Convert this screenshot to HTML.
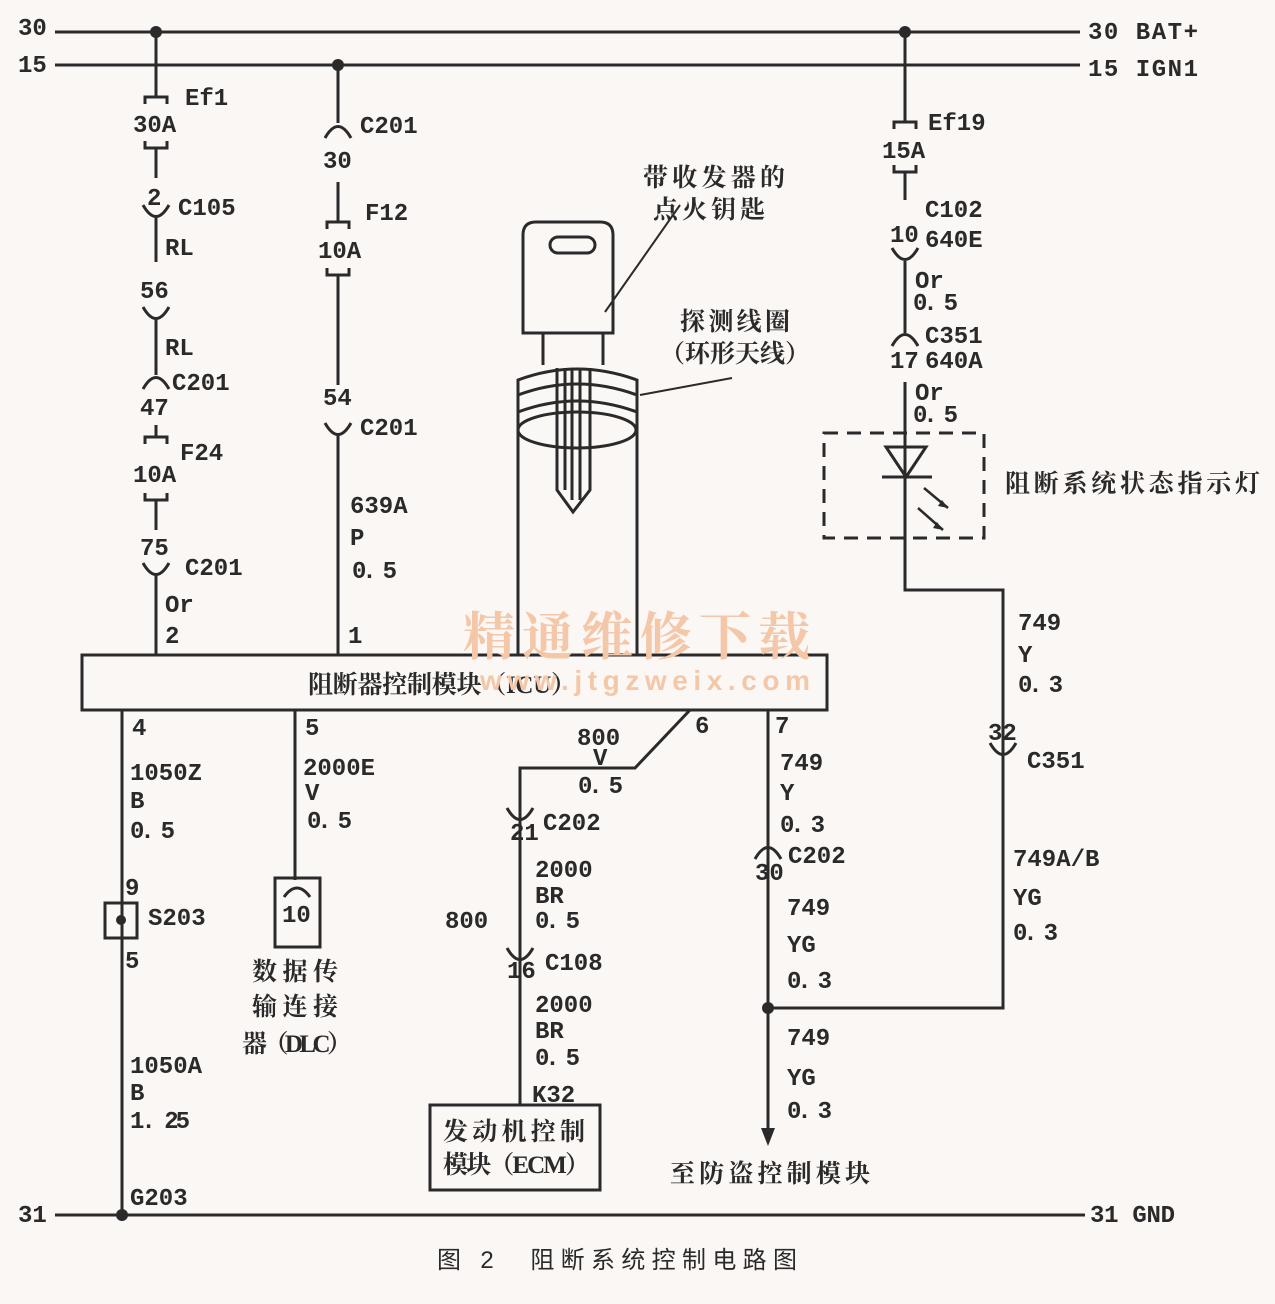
<!DOCTYPE html><html><head><meta charset="utf-8"><style>body{margin:0;background:#fbf7f5}svg{display:block}text{font-family:"Liberation Mono","Noto Serif CJK SC",monospace;font-weight:bold;font-size:24px;fill:#2a2a2a}.c{font-family:"Liberation Serif","Noto Serif CJK SC",serif;font-size:25px;font-weight:bold}</style></head><body>
<svg width="1275" height="1304" viewBox="0 0 1275 1304" xmlns="http://www.w3.org/2000/svg">
<g stroke="#2a2a2a" stroke-width="3" fill="none">
<path d="M55 32H1080M55 65H1080M55 1215H1085"/>
<path d="M156 32V97M145 104V97H167V104M145 141V148H167V141M156 148V178"/>
<path d="M143 205Q156 228 169 205M156 218V262"/>
<path d="M143 307Q156 330 169 307M156 320V375"/>
<path d="M143 389Q156 366 169 389M156 425V437M145 444V437H167V444M145 493V500H167V493M156 500V530"/>
<path d="M143 563Q156 586 169 563M156 576V655"/>
<path d="M338 65V123M325 138Q338 115 351 138M338 182V222M327 229V222H349V229M327 268V275H349V268M338 275V385"/>
<path d="M325 423Q338 446 351 423M338 436V655"/>
<path d="M905 32V122M894 129V122H916V129M894 165V172H916V165M905 172V200"/>
<path d="M892 248Q905 271 918 248M905 261V333M892 346Q905 323 918 346M905 382V590H1003V1008H768"/>
<path d="M824 433H984V538H824Z" stroke-dasharray="14 9"/>
<path d="M886 447H926L906 477ZM882 477H932"/>
<path d="M924 488L948 508M918 508L943 530" stroke-width="2.5"/>
<path d="M990 743Q1003 766 1016 743"/>
<rect x="82" y="655" width="745" height="55"/>
<path d="M122 710V1215M295 710V880M690 710L635 768H520V1105M768 710V1132"/>
<rect x="105" y="903" width="32" height="35"/>
<rect x="275" y="878" width="45" height="69"/>
<path d="M284 897Q297 879 310 897"/>
<path d="M507 808Q520 831 533 808M507 948Q520 971 533 948"/>
<path d="M755 859Q768 836 781 859"/>
<rect x="430" y="1105" width="170" height="85"/>
<path d="M523 333V235Q523 222 536 222H600Q613 222 613 235V333Z"/>
<rect x="550" y="237" width="45" height="16" rx="8"/>
<path d="M543 333V365M603 333V365"/>
<path d="M518 655V380Q577 358 637 380V655"/>
<path d="M518 395Q577 373 637 395M518 412Q577 390 637 412"/>
<ellipse cx="577" cy="430" rx="59" ry="18"/>
<path d="M557 368V490L573 512L590 490V368M565 368V490M572 368V500M580 368V500"/>
<path d="M605 312L680 205M640 395L732 378" stroke-width="2"/>
</g>
<g fill="#2a2a2a"><circle cx="156" cy="32" r="6"/><circle cx="338" cy="65" r="6"/><circle cx="905" cy="32" r="6"/><circle cx="122" cy="1215" r="6"/><circle cx="768" cy="1008" r="6"/><circle cx="121" cy="920" r="5"/><path d="M761 1128L775 1128L768 1146Z"/><path d="M948 508l-10-2 4-6zM943 530l-10-2 4-6z"/></g>
<text x="18" y="35">30</text><text x="18" y="72">15</text><text x="18" y="1222">31</text>
<text x="1088" y="39" textLength="110">30 BAT+</text><text x="1088" y="76" textLength="110">15 IGN1</text><text x="1090" y="1222" textLength="85">31 GND</text>
<text x="185" y="105">Ef1</text><text x="133" y="132">30A</text><text x="147" y="205">2</text><text x="178" y="215">C105</text><text x="165" y="255">RL</text><text x="140" y="298">56</text><text x="165" y="355">RL</text><text x="172" y="390">C201</text><text x="140" y="415">47</text><text x="180" y="460">F24</text><text x="133" y="482">10A</text><text x="140" y="555">75</text><text x="185" y="575">C201</text><text x="165" y="612">Or</text><text x="165" y="643">2</text>
<text x="360" y="133">C201</text><text x="323" y="168">30</text><text x="365" y="220">F12</text><text x="318" y="258">10A</text><text x="323" y="405">54</text><text x="360" y="435">C201</text><text x="350" y="513">639A</text><text x="350" y="545">P</text><text x="352" y="578" textLength="45">0. 5</text><text x="348" y="643">1</text>
<text x="928" y="130">Ef19</text><text x="882" y="158">15A</text><text x="925" y="217">C102</text><text x="890" y="242">10</text><text x="925" y="247">640E</text><text x="915" y="288">Or</text><text x="913" y="310" textLength="45">0. 5</text><text x="925" y="343">C351</text><text x="890" y="368">17</text><text x="925" y="368">640A</text><text x="915" y="400">Or</text><text x="913" y="422" textLength="45">0. 5</text>
<text class="c" x="1005" y="492" textLength="255">阻断系统状态指示灯</text>
<text x="1018" y="630">749</text><text x="1018" y="662">Y</text><text x="1018" y="692" textLength="45">0. 3</text><text x="988" y="740">32</text><text x="1027" y="768">C351</text><text x="1013" y="866">749A/B</text><text x="1013" y="905">YG</text><text x="1013" y="940" textLength="45">0. 3</text>
<text x="463" y="655" textLength="347" style="font-family:'Noto Serif CJK SC',serif;font-size:52px;fill:#f3c7a8">精通维修下载</text>
<text class="c" x="308" y="693" textLength="268">阻断器控制模块（ICU）</text>
<text x="480" y="690" textLength="330" style="font-family:'Liberation Sans',sans-serif;font-size:28px;fill:#f3c7a8">www.jtgzweix.com</text>
<text x="132" y="735">4</text><text x="130" y="780">1050Z</text><text x="130" y="808">B</text><text x="130" y="838" textLength="45">0. 5</text><text x="125" y="895">9</text><text x="148" y="925">S203</text><text x="125" y="968">5</text><text x="130" y="1073">1050A</text><text x="130" y="1100">B</text><text x="130" y="1128" textLength="60">1. 25</text><text x="130" y="1205">G203</text>
<text x="305" y="735">5</text><text x="303" y="775">2000E</text><text x="305" y="800">V</text><text x="307" y="828" textLength="45">0. 5</text><text x="282" y="922">10</text>
<text class="c" x="252" y="980" textLength="86">数据传</text><text class="c" x="252" y="1015" textLength="86">输连接</text><text class="c" x="242" y="1052" textLength="110">器（DLC）</text>
<text x="695" y="733">6</text><text x="577" y="745">800</text><text x="593" y="765">V</text><text x="578" y="793" textLength="45">0. 5</text><text x="510" y="840">21</text><text x="543" y="830">C202</text><text x="535" y="877">2000</text><text x="535" y="903">BR</text><text x="535" y="928" textLength="45">0. 5</text><text x="445" y="928">800</text><text x="507" y="978">16</text><text x="545" y="970">C108</text><text x="535" y="1012">2000</text><text x="535" y="1038">BR</text><text x="535" y="1065" textLength="45">0. 5</text><text x="532" y="1102">K32</text>
<text class="c" x="443" y="1140" textLength="142">发动机控制</text><text class="c" x="443" y="1173" textLength="147">模块（ECM）</text>
<text x="775" y="733">7</text><text x="780" y="770">749</text><text x="780" y="800">Y</text><text x="780" y="832" textLength="45">0. 3</text><text x="788" y="863">C202</text><text x="755" y="880">30</text><text x="787" y="915">749</text><text x="787" y="952">YG</text><text x="787" y="988" textLength="45">0. 3</text><text x="787" y="1045">749</text><text x="787" y="1085">YG</text><text x="787" y="1118" textLength="45">0. 3</text>
<text class="c" x="670" y="1182" textLength="200">至防盗控制模块</text>
<text class="c" x="643" y="186" textLength="142">带收发器的</text><text class="c" x="653" y="218" textLength="112">点火钥匙</text><text class="c" x="680" y="330" textLength="110">探测线圈</text><text class="c" x="660" y="362" textLength="150">（环形天线）</text>
<text x="437" y="1268" textLength="360" style="font-family:'Liberation Sans','Noto Sans CJK SC',sans-serif;font-weight:normal">图 2　阻断系统控制电路图</text>
</svg></body></html>
